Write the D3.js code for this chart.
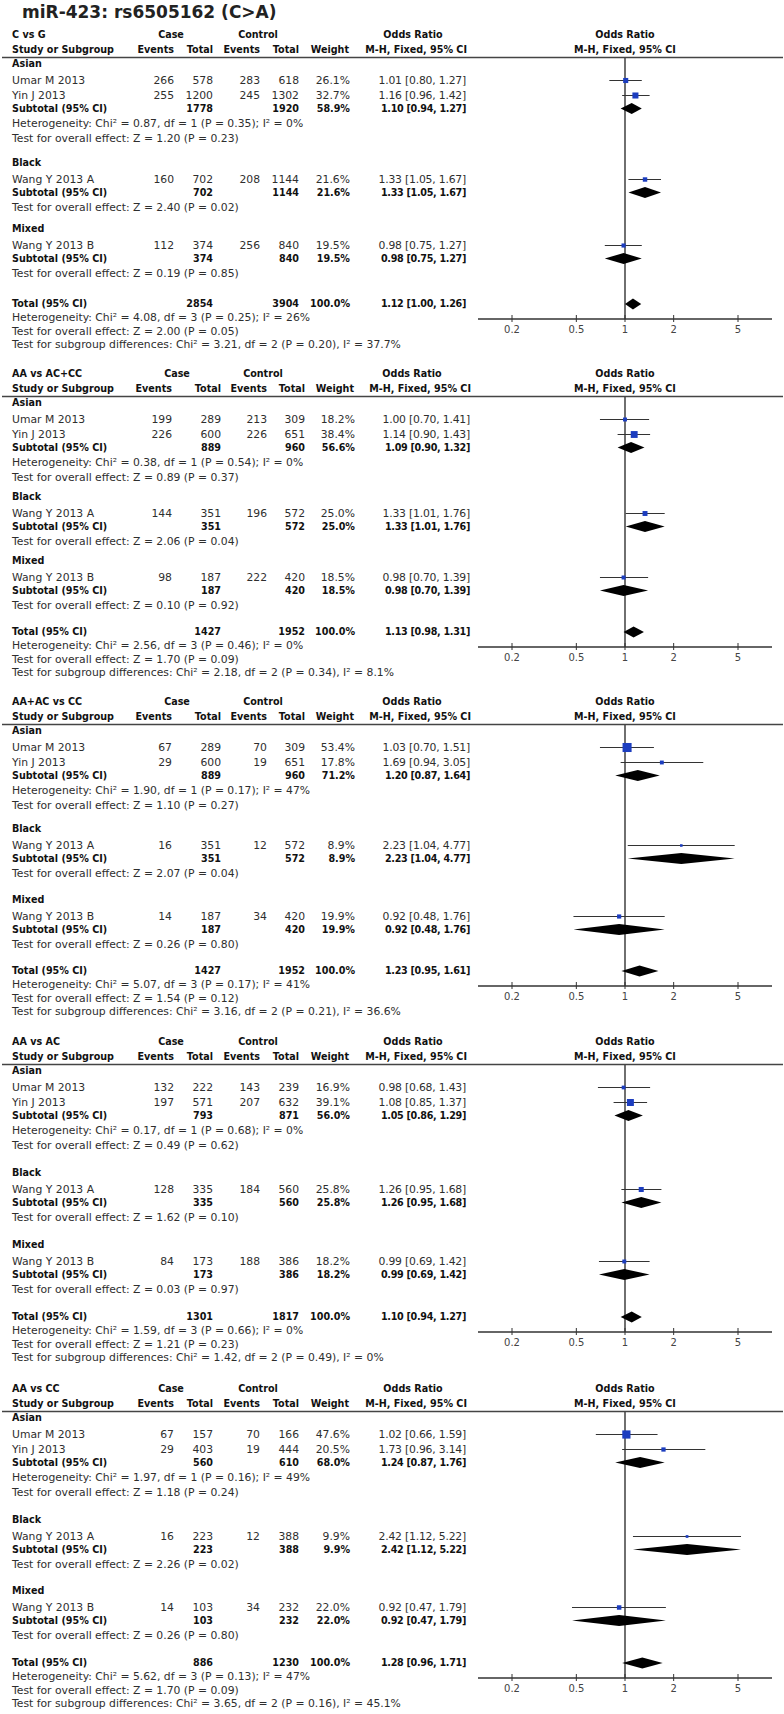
<!DOCTYPE html>
<html><head><meta charset="utf-8">
<script src="https://cdn.jsdelivr.net/npm/d3@7"></script>
<style>
body{margin:0;background:#fff}
text{font-family:"DejaVu Sans",Verdana,sans-serif}
</style>
</head><body><script>
// ---------------- DATA ----------------
const title = "miR-423: rs6505162 (C>A)";
const comparisons = ["C vs G", "AA vs AC+CC", "AA+AC vs CC", "AA vs AC", "AA vs CC"];
const groupNames = ["Asian", "Black", "Mixed"];
const studyNames = ["Umar M 2013", "Yin J 2013", "Wang Y 2013 A", "Wang Y 2013 B"];
const studyGroup = [0, 0, 1, 2];

const caseEvents = [[266,255,160,112],[199,226,144,98],[67,29,16,14],[132,197,128,84],[67,29,16,14]];
const caseTotal  = [[578,1200,702,374],[289,600,351,187],[289,600,351,187],[222,571,335,173],[157,403,223,103]];
const ctrlEvents = [[283,245,208,256],[213,226,196,222],[70,19,12,34],[143,207,184,188],[70,19,12,34]];
const ctrlTotal  = [[618,1302,1144,840],[309,651,572,420],[309,651,572,420],[239,632,560,386],[166,444,388,232]];
const studyWeight = [[26.1,32.7,21.6,19.5],[18.2,38.4,25.0,18.5],[53.4,17.8,8.9,19.9],[16.9,39.1,25.8,18.2],[47.6,20.5,9.9,22.0]];
// [OR, lower, upper]
const studyOR = [
  [[1.01,0.80,1.27],[1.16,0.96,1.42],[1.33,1.05,1.67],[0.98,0.75,1.27]],
  [[1.00,0.70,1.41],[1.14,0.90,1.43],[1.33,1.01,1.76],[0.98,0.70,1.39]],
  [[1.03,0.70,1.51],[1.69,0.94,3.05],[2.23,1.04,4.77],[0.92,0.48,1.76]],
  [[0.98,0.68,1.43],[1.08,0.85,1.37],[1.26,0.95,1.68],[0.99,0.69,1.42]],
  [[1.02,0.66,1.59],[1.73,0.96,3.14],[2.42,1.12,5.22],[0.92,0.47,1.79]]
];

const subCaseTotal = [[1778,702,374],[889,351,187],[889,351,187],[793,335,173],[560,223,103]];
const subCtrlTotal = [[1920,1144,840],[960,572,420],[960,572,420],[871,560,386],[610,388,232]];
const subWeight = [[58.9,21.6,19.5],[56.6,25.0,18.5],[71.2,8.9,19.9],[56.0,25.8,18.2],[68.0,9.9,22.0]];
const subOR = [
  [[1.10,0.94,1.27],[1.33,1.05,1.67],[0.98,0.75,1.27]],
  [[1.09,0.90,1.32],[1.33,1.01,1.76],[0.98,0.70,1.39]],
  [[1.20,0.87,1.64],[2.23,1.04,4.77],[0.92,0.48,1.76]],
  [[1.05,0.86,1.29],[1.26,0.95,1.68],[0.99,0.69,1.42]],
  [[1.24,0.87,1.76],[2.42,1.12,5.22],[0.92,0.47,1.79]]
];
const hetAsian = [
  "Heterogeneity: Chi² = 0.87, df = 1 (P = 0.35); I² = 0%",
  "Heterogeneity: Chi² = 0.38, df = 1 (P = 0.54); I² = 0%",
  "Heterogeneity: Chi² = 1.90, df = 1 (P = 0.17); I² = 47%",
  "Heterogeneity: Chi² = 0.17, df = 1 (P = 0.68); I² = 0%",
  "Heterogeneity: Chi² = 1.97, df = 1 (P = 0.16); I² = 49%"
];
const testGroup = [
  ["Z = 1.20 (P = 0.23)", "Z = 2.40 (P = 0.02)", "Z = 0.19 (P = 0.85)"],
  ["Z = 0.89 (P = 0.37)", "Z = 2.06 (P = 0.04)", "Z = 0.10 (P = 0.92)"],
  ["Z = 1.10 (P = 0.27)", "Z = 2.07 (P = 0.04)", "Z = 0.26 (P = 0.80)"],
  ["Z = 0.49 (P = 0.62)", "Z = 1.62 (P = 0.10)", "Z = 0.03 (P = 0.97)"],
  ["Z = 1.18 (P = 0.24)", "Z = 2.26 (P = 0.02)", "Z = 0.26 (P = 0.80)"]
];
const totalCase = [2854, 1427, 1427, 1301, 886];
const totalCtrl = [3904, 1952, 1952, 1817, 1230];
const totalOR = [[1.12,1.00,1.26],[1.13,0.98,1.31],[1.23,0.95,1.61],[1.10,0.94,1.27],[1.28,0.96,1.71]];
const hetTotal = [
  "Heterogeneity: Chi² = 4.08, df = 3 (P = 0.25); I² = 26%",
  "Heterogeneity: Chi² = 2.56, df = 3 (P = 0.46); I² = 0%",
  "Heterogeneity: Chi² = 5.07, df = 3 (P = 0.17); I² = 41%",
  "Heterogeneity: Chi² = 1.59, df = 3 (P = 0.66); I² = 0%",
  "Heterogeneity: Chi² = 5.62, df = 3 (P = 0.13); I² = 47%"
];
const testTotal = ["Z = 2.00 (P = 0.05)", "Z = 1.70 (P = 0.09)", "Z = 1.54 (P = 0.12)", "Z = 1.21 (P = 0.23)", "Z = 1.70 (P = 0.09)"];
const subgroupDiff = [
  "Chi² = 3.21, df = 2 (P = 0.20), I² = 37.7%",
  "Chi² = 2.18, df = 2 (P = 0.34), I² = 8.1%",
  "Chi² = 3.16, df = 2 (P = 0.21), I² = 36.6%",
  "Chi² = 1.42, df = 2 (P = 0.49), I² = 0%",
  "Chi² = 3.65, df = 2 (P = 0.16), I² = 45.1%"
];
const tickValues = [0.2, 0.5, 1, 2, 5];
const tickLabels = ["0.2", "0.5", "1", "2", "5"];

// ---------------- LAYOUT ----------------
const W = 784, H = 1714;
const panelTop = [35, 374, 702, 1042, 1389];
const panelLayout = [0, 1, 1, 0, 0];
const panelGaps = [[25,22,31],[20,20,27],[24,27,27],[28,28,28],[28,27,28]];
const layouts = [
  {ce:174, ct:213, xe:260, xt:299, w:350, or:466, caseC:171, ctrlC:258, orC:413},
  {ce:172, ct:221, xe:267, xt:305, w:355, or:470, caseC:177, ctrlC:263, orC:412}
];
const REG = 10.8, BOLD = 9.6;
const textCol = "#2e2e2e";
const blue = "#1c3dbf";

const x = d3.scaleLog().domain([0.2, 5]).range([512, 738]);
const axisExtent = [478, 772];
const sq = d3.scaleLinear().domain([0, 100]).range([1.3, 15.8]);

const svg = d3.select("body").append("svg").attr("width", W).attr("height", H)
  .style("display","block");

function txt(g, tx, ty, s, o = {}) {
  const b = !!o.bold;
  const t = g.append("text").attr("x", tx).attr("y", ty).attr("dy", "0.36em")
    .attr("text-anchor", o.anchor || "start")
    .attr("font-size", o.size || (b ? BOLD : REG))
    .attr("font-weight", b ? "bold" : "normal")
    .attr("fill", b ? "#111" : textCol)
    .text(s);
  if (o.ls) t.attr("letter-spacing", o.ls);
  return t;
}
const fmtCI = d => `${d[0].toFixed(2)} [${d[1].toFixed(2)}, ${d[2].toFixed(2)}]`;
const pct = v => v.toFixed(1) + "%";

svg.append("text").attr("x", 22).attr("y", 12).attr("dy", "0.36em")
  .attr("font-size", 17).attr("font-weight", "bold").attr("fill", "#222").text(title);

function diamond(g, y, d, hh) {
  const p = d3.path();
  p.moveTo(x(d[1]), y); p.lineTo(x(d[0]), y - hh); p.lineTo(x(d[2]), y); p.lineTo(x(d[0]), y + hh); p.closePath();
  g.append("path").attr("d", p.toString()).attr("fill", "#000");
}

function drawPanel(p) {
  const g = svg.append("g");
  const T = panelTop[p];
  const L = layouts[panelLayout[p]];
  const xc = x(1);
  // headers
  txt(g, 12, T, comparisons[p], {bold: true});
  txt(g, L.caseC, T, "Case", {bold: true, anchor: "middle"});
  txt(g, L.ctrlC, T, "Control", {bold: true, anchor: "middle"});
  txt(g, L.orC, T, "Odds Ratio", {bold: true, anchor: "middle"});
  txt(g, xc, T, "Odds Ratio", {bold: true, anchor: "middle"});
  const T2 = T + 15;
  txt(g, 12, T2, "Study or Subgroup", {bold: true});
  txt(g, L.ce, T2, "Events", {bold: true, anchor: "end"});
  txt(g, L.ct, T2, "Total", {bold: true, anchor: "end"});
  txt(g, L.xe, T2, "Events", {bold: true, anchor: "end"});
  txt(g, L.xt, T2, "Total", {bold: true, anchor: "end"});
  txt(g, L.w - 1, T2, "Weight", {bold: true, anchor: "end"});
  txt(g, L.or + 1, T2, "M-H, Fixed, 95% CI", {bold: true, anchor: "end"});
  txt(g, xc, T2, "M-H, Fixed, 95% CI", {bold: true, anchor: "middle"});
  const lineY = T + 22.5;
  g.append("line").attr("x1", 2).attr("x2", 783).attr("y1", lineY).attr("y2", lineY)
    .attr("stroke", "#444").attr("stroke-width", 1.3);

  const marks = svg.append("g");
  let y = T + 29;
  groupNames.forEach((gn, gi) => {
    txt(g, 12, y, gn, {bold: true});
    const idx = studyGroup.map((sg, i) => sg === gi ? i : -1).filter(i => i >= 0);
    let sy = y + 16.5;
    idx.forEach(si => {
      txt(g, 12, sy, studyNames[si]);
      txt(g, L.ce, sy, caseEvents[p][si], {anchor: "end"});
      txt(g, L.ct, sy, caseTotal[p][si], {anchor: "end"});
      txt(g, L.xe, sy, ctrlEvents[p][si], {anchor: "end"});
      txt(g, L.xt, sy, ctrlTotal[p][si], {anchor: "end"});
      txt(g, L.w, sy, pct(studyWeight[p][si]), {anchor: "end"});
      txt(g, L.or, sy, fmtCI(studyOR[p][si]), {anchor: "end", ls: -0.2});
      const d = studyOR[p][si];
      marks.append("line").attr("x1", x(d[1])).attr("x2", x(d[2])).attr("y1", sy).attr("y2", sy)
        .attr("stroke", "#333").attr("stroke-width", 1);
      const s = sq(studyWeight[p][si]);
      marks.append("rect").attr("x", x(d[0]) - s / 2).attr("y", sy - s / 2).attr("width", s).attr("height", s)
        .attr("fill", blue);
      sy += 15;
    });
    const subY = sy - 15 + 13;
    txt(g, 12, subY, "Subtotal (95% CI)", {bold: true});
    txt(g, L.ct, subY, subCaseTotal[p][gi], {bold: true, anchor: "end"});
    txt(g, L.xt, subY, subCtrlTotal[p][gi], {bold: true, anchor: "end"});
    txt(g, L.w, subY, pct(subWeight[p][gi]), {bold: true, anchor: "end"});
    txt(g, L.or, subY, fmtCI(subOR[p][gi]), {bold: true, anchor: "end", ls: -0.3});
    diamond(marks, subY, subOR[p][gi], 5.5);
    let ty = subY;
    if (idx.length > 1) { ty += 15; txt(g, 12, ty, hetAsian[p]); }
    ty += 14.5;
    txt(g, 12, ty, "Test for overall effect: " + testGroup[p][gi]);
    y = ty + panelGaps[p][gi];
  });
  const totY = y;
  txt(g, 12, totY, "Total (95% CI)", {bold: true});
  txt(g, L.ct, totY, totalCase[p], {bold: true, anchor: "end"});
  txt(g, L.xt, totY, totalCtrl[p], {bold: true, anchor: "end"});
  txt(g, L.w, totY, "100.0%", {bold: true, anchor: "end"});
  txt(g, L.or, totY, fmtCI(totalOR[p]), {bold: true, anchor: "end", ls: -0.3});
  txt(g, 12, totY + 13.5, hetTotal[p]);
  txt(g, 12, totY + 27, "Test for overall effect: " + testTotal[p]);
  txt(g, 12, totY + 40.5, "Test for subgroup differences: " + subgroupDiff[p]);
  diamond(marks, totY, totalOR[p], 5.5);

  // axis + null line
  const axY = totY + 15;
  const ax = svg.insert("g", ":first-child");
  ax.append("line").attr("x1", xc).attr("x2", xc).attr("y1", lineY).attr("y2", axY)
    .attr("stroke", "#222").attr("stroke-width", 1.3);
  ax.append("line").attr("x1", axisExtent[0]).attr("x2", axisExtent[1]).attr("y1", axY).attr("y2", axY)
    .attr("stroke", "#333").attr("stroke-width", 1.3);
  ax.selectAll(".tk").data(tickValues).join("line")
    .attr("x1", d => x(d)).attr("x2", d => x(d)).attr("y1", axY - 4).attr("y2", axY + 3)
    .attr("stroke", "#333").attr("stroke-width", 1);
  ax.selectAll(".tl").data(tickValues).join("text")
    .attr("x", d => x(d)).attr("y", axY + 10).attr("dy", "0.36em")
    .attr("text-anchor", "middle").attr("font-size", 10).attr("fill", "#444")
    .text((d, i) => tickLabels[i]);
}
comparisons.forEach((c, p) => drawPanel(p));
</script></body></html>
